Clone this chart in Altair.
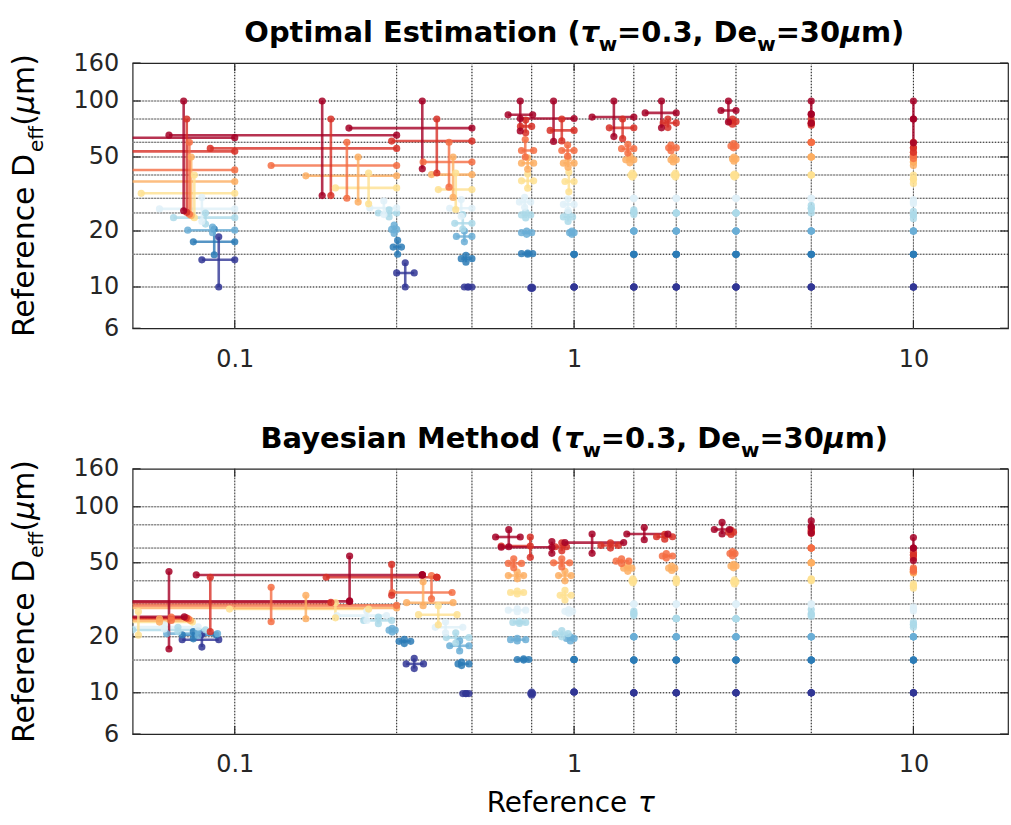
import altair as alt
import pandas as pd

# ---------------- reference grid / legend levels ----------------
LEVELS = [10, 15, 20, 25, 30, 40, 50, 60, 80, 100]          # reference De (um)
COLORS = ["#313695", "#2c7bb6", "#6aaed6", "#abd9e9", "#dff0f8",
          "#fee090", "#fdae61", "#f46d43", "#d73027", "#a50026"]
TAU_REF = [0.1, 0.3, 0.5, 0.75, 1, 1.5, 2, 3, 5, 10]
DE_GRID = [10, 15, 20, 25, 30, 40, 50, 60, 80, 100]
X_TICKS = [0.1, 1, 10]
Y_TICKS = [6, 10, 20, 50, 100, 160]
X_DOMAIN = [0.05, 19]
Y_DOMAIN = [6, 160]

# ---------------- Optimal Estimation (one row per reference tau, levels 10..100) ----
OE_XL = [
    [0.080, 0.0755, 0.0727, 0.066, 0.060, 0.053, 0.045, 0.045, 0.045, 0.045],
    [0.300, 0.293, 0.290, 0.265, 0.250, 0.198, 0.162, 0.128, 0.0847, 0.064],
    [0.475, 0.465, 0.450, 0.445, 0.430, 0.398, 0.380, 0.359, 0.290, 0.217],
    [0.745, 0.700, 0.700, 0.700, 0.690, 0.700, 0.700, 0.700, 0.695, 0.639],
    [1.0, 1.0, 0.97, 0.93, 0.93, 0.94, 0.93, 0.92, 0.85, 0.694],
    [1.5, 1.5, 1.5, 1.5, 1.5, 1.47, 1.42, 1.38, 1.27, 1.13],
    [2, 2, 2, 2, 2, 1.97, 1.93, 1.90, 1.83, 1.62],
    [3, 3, 3, 3, 3, 2.95, 2.93, 2.90, 2.88, 2.71],
    [5, 5, 5, 5, 5, 5, 5, 5, 5, 5],
    [10, 10, 10, 10, 10, 10, 10, 10, 10, 10],
]
OE_XR = [
    [0.1, 0.1, 0.1, 0.1, 0.1, 0.1, 0.1, 0.1, 0.1, 0.1],
    [0.338, 0.31, 0.30, 0.30, 0.30, 0.30, 0.30, 0.30, 0.30, 0.30],
    [0.5, 0.5, 0.5, 0.5, 0.5, 0.5, 0.5, 0.5, 0.5, 0.5],
    [0.755, 0.755, 0.75, 0.745, 0.745, 0.76, 0.76, 0.76, 0.75, 0.755],
    [1.0, 1.0, 1.0, 0.99, 1.0, 1.0, 1.0, 1.0, 1.0, 1.0],
    [1.5, 1.5, 1.5, 1.5, 1.5, 1.5, 1.5, 1.5, 1.5, 1.5],
    [2, 2, 2, 2, 2, 2, 2, 2, 2, 2],
    [3, 3, 3, 3, 3, 3, 3, 3, 3, 3],
    [5, 5, 5, 5, 5, 5, 5, 5, 5, 5],
    [10, 10, 10, 10, 10, 10, 10, 10, 10, 10],
]
OE_YH = [
    [14.0, 17.5, 20.2, 23.6, 26.3, 31.9, 36.9, 42.6, 53.6, 63.5],
    [11.9, 16.4, 20.4, 25.0, 26.6, 34.1, 39.6, 45.0, 55.6, 65.5],
    [10.0, 14.2, 18.7, 22.0, 26.5, 33.4, 40.2, 47.0, 60.9, 71.5],
    [9.9, 15.1, 19.6, 24.4, 28.6, 37.2, 46.3, 54.2, 73.0, 84.3],
    [10, 15, 19.6, 23.8, 27.8, 36.9, 46.3, 54.2, 69.5, 80.5],
    [10, 15, 20, 25.3, 30, 40, 48.3, 55.4, 71.7, 82],
    [10, 15, 20, 25, 30, 40, 48.3, 56, 76.2, 86.3],
    [10, 15, 20, 25, 30, 39.8, 48.8, 57.2, 77.5, 88.9],
    [10, 15, 20, 26.4, 30, 40, 50, 60, 76, 85],
    [10, 15, 20, 24.4, 28.6, 38, 47, 51, 56, 80],
]
OE_XV = [
    [0.0897, 0.087, 0.086, 0.082, 0.080, 0.076, 0.0744, 0.0735, 0.0722, 0.0707],
    [0.318, 0.302, 0.295, 0.285, 0.275, 0.248, 0.231, 0.214, 0.192, 0.181],
    [0.487, 0.48, 0.475, 0.47, 0.465, 0.448, 0.44, 0.428, 0.394, 0.357],
    [0.75, 0.73, 0.725, 0.72, 0.715, 0.73, 0.73, 0.718, 0.72, 0.694],
    [1, 1, 0.985, 0.96, 0.96, 0.965, 0.96, 0.957, 0.92, 0.87],
    [1.5, 1.5, 1.5, 1.5, 1.5, 1.485, 1.46, 1.44, 1.39, 1.31],
    [2, 2, 2, 2, 2, 1.99, 1.96, 1.93, 1.89, 1.81],
    [3, 3, 3, 3, 3, 2.97, 2.96, 2.95, 2.93, 2.85],
    [5, 5, 5, 5, 5, 5, 5, 5, 5, 5],
    [10, 10, 10, 10, 10, 10, 10, 10, 10, 10],
]
OE_YB = [
    [10, 14.9, 19.6, 21.8, 22.5, 23.6, 24.2, 24.6, 25.2, 25.7],
    [10, 15.0, 19.4, 23.8, 24.5, 28.0, 28.6, 30.0, 31.0, 31.0],
    [10, 13.6, 17.5, 20.5, 24.0, 26.1, 30.3, 34.4, 41.0, 43.2],
    [9.8, 15, 19.2, 23.5, 26.8, 34, 43, 50, 67.5, 69],
    [10, 15, 19.2, 22.5, 25.8, 32.5, 44, 50.5, 61, 60.6],
    [10, 15, 20, 24.5, 30, 39, 46.5, 52.5, 62.7, 64.4],
    [10, 15, 20, 25, 30, 39, 47, 54, 72, 71.7],
    [10, 15, 20, 25, 30, 39, 47.5, 56, 75, 77],
    [10, 15, 20, 25, 30, 40, 50, 60, 74, 76],
    [10, 15, 20, 23.3, 28, 36, 45, 49, 53, 59.6],
]
OE_YT = [
    [18.6, 20.5, 21.0, 25.0, 30.3, 40, 50, 60, 80, 100],
    [13.5, 17.8, 21.5, 26.0, 29.0, 41, 50, 60, 80, 100],
    [10, 14.8, 20.0, 24.5, 29.5, 41, 50, 60, 80, 100],
    [10, 15.2, 20, 25.3, 30.3, 40.5, 49.5, 62, 79, 100],
    [10, 15, 20, 25.2, 29.8, 41.5, 49, 58, 80, 100],
    [10, 15, 20, 26, 30, 41, 50.5, 58.5, 80, 100],
    [10, 15, 20, 25, 30, 41, 50, 58, 80, 100],
    [10, 15, 20, 25, 30, 40.5, 50, 59, 80, 100],
    [10, 15, 20, 27.5, 30, 40, 50, 60, 80, 100],
    [10, 15, 20, 25.5, 29.5, 40, 49, 53, 60, 100],
]

# ---------------- Bayesian Method ----------------
BM_XL = [
    [0.070, 0.070, 0.063, 0.050, 0.045, 0.045, 0.045, 0.045, 0.045, 0.045],
    [0.320, 0.305, 0.285, 0.240, 0.200, 0.0965, 0.045, 0.045, 0.045, 0.045],
    [0.470, 0.455, 0.430, 0.420, 0.390, 0.348, 0.321, 0.291, 0.186, 0.077],
    [0.745, 0.68, 0.65, 0.66, 0.64, 0.65, 0.64, 0.64, 0.61, 0.587],
    [1, 1, 0.95, 0.88, 0.94, 0.91, 0.90, 0.87, 0.88, 0.61],
    [1.5, 1.5, 1.5, 1.5, 1.5, 1.48, 1.40, 1.33, 1.20, 0.94],
    [2, 2, 2, 2, 2, 2, 1.90, 1.82, 1.75, 1.43],
    [3, 3, 3, 3, 3, 2.95, 2.90, 2.88, 2.85, 2.59],
    [5, 5, 5, 5, 5, 5, 5, 5, 5, 5],
    [10, 10, 10, 10, 10, 10, 10, 10, 10, 10],
]
BM_XR = [
    [0.0897, 0.088, 0.089, 0.082, 0.078, 0.075, 0.074, 0.073, 0.072, 0.071],
    [0.360, 0.330, 0.297, 0.290, 0.280, 0.248, 0.300, 0.300, 0.192, 0.218],
    [0.490, 0.490, 0.490, 0.490, 0.470, 0.452, 0.440, 0.437, 0.394, 0.357],
    [0.755, 0.735, 0.72, 0.72, 0.72, 0.71, 0.71, 0.70, 0.743, 0.694],
    [1, 1, 1.0, 0.96, 0.99, 0.98, 0.98, 0.97, 0.95, 0.86],
    [1.5, 1.5, 1.5, 1.5, 1.5, 1.5, 1.48, 1.45, 1.35, 1.40],
    [2, 2, 2, 2, 2, 2, 1.98, 1.95, 1.95, 1.89],
    [3, 3, 3, 3, 3, 3, 3.0, 2.98, 2.95, 2.87],
    [5, 5, 5, 5, 5, 5, 5, 5, 5, 5],
    [10, 10, 10, 10, 10, 10, 10, 10, 10, 10],
]
BM_YH = [
    [19.3, 20.5, 20.8, 21.8, 22.6, 24.0, 24.5, 25.0, 25.3, 25.6],
    [14.3, 18.9, 21.7, 24.5, 26.0, 28.2, 28.6, 29.5, 30.6, 31.0],
    [9.9, 14.3, 17.9, 19.8, 22.5, 26.3, 30.5, 34.6, 41.8, 43.0],
    [9.9, 15.1, 19.3, 23.9, 27.8, 34.6, 42.7, 49.6, 61.5, 68.8],
    [10.1, 15.1, 19.6, 20.8, 27.4, 33.4, 42.7, 50, 61, 60.6],
    [10, 15, 20, 26.7, 30, 40, 46.8, 51, 62, 64.2],
    [10, 15, 20, 25.1, 30, 40, 46.8, 54.4, 69, 71.4],
    [10, 15, 20, 25, 30, 39.5, 48, 56.1, 73, 75.5],
    [10, 15, 20, 26.5, 30, 40.6, 50, 60, 74, 78],
    [10, 15, 20, 23.3, 28.2, 37.5, 44.5, 46, 55, 60],
]
BM_XV = [
    [0.080, 0.0755, 0.078, 0.068, 0.062, 0.052, 0.060, 0.065, 0.0847, 0.064],
    [0.338, 0.316, 0.291, 0.265, 0.245, 0.198, 0.162, 0.128, 0.290, 0.218],
    [0.480, 0.466, 0.460, 0.448, 0.418, 0.398, 0.359, 0.380, 0.394, 0.357],
    [0.75, 0.71, 0.68, 0.69, 0.68, 0.68, 0.68, 0.664, 0.743, 0.642],
    [1, 1, 0.975, 0.92, 0.965, 0.94, 0.94, 0.92, 0.92, 0.86],
    [1.5, 1.5, 1.5, 1.5, 1.5, 1.49, 1.44, 1.38, 1.28, 1.13],
    [2, 2, 2, 2, 2, 2, 1.94, 1.87, 1.85, 1.61],
    [3, 3, 3, 3, 3, 2.97, 2.95, 2.93, 2.9, 2.73],
    [5, 5, 5, 5, 5, 5, 5, 5, 5, 5],
    [10, 10, 10, 10, 10, 10, 10, 10, 10, 10],
]
BM_YB = [
    [17.6, 19.5, 20.3, 21.3, 22.0, 20.4, 24.0, 24.5, 21.3, 17.2],
    [13.5, 18.4, 21.2, 23.5, 24.5, 25.3, 25.0, 24.1, 33.4, 31.2],
    [9.9, 14.0, 16.8, 18.5, 21.0, 23.2, 29.4, 32.0, 41.8, 43.0],
    [9.7, 15.0, 19.0, 23.6, 27.3, 34.0, 41.0, 47.0, 53.5, 61.0],
    [10.1, 15.1, 19.0, 20.0, 26.8, 31.5, 40.0, 47.5, 58, 56.2],
    [10, 15, 20, 26, 30, 39, 45, 49.5, 60, 56.2],
    [10, 15, 20, 25, 30, 39, 45.5, 53, 67, 66.5],
    [10, 15, 20, 25, 30, 38.5, 47, 54.5, 71, 71.4],
    [10, 15, 20, 25.8, 30, 40, 50, 60, 72, 72.2],
    [10, 15, 20, 22.5, 27.5, 36.5, 44, 45, 53, 51.4],
]
BM_YT = [
    [20.6, 21.3, 21.5, 22.5, 23.2, 27.3, 25.0, 25.5, 41.8, 44.9],
    [15.3, 19.4, 22.2, 25.5, 27.5, 30.5, 33.4, 36.9, 49.0, 54.4],
    [9.9, 14.6, 19.0, 21.0, 24.0, 29.4, 39.5, 42.7, 41.8, 43.0],
    [10.1, 15.2, 19.6, 24.2, 28.3, 35.2, 44.5, 52.5, 68.8, 75.3],
    [10.1, 15.1, 20, 21.6, 28, 35.5, 45, 52.5, 64, 65],
    [10, 15, 20, 27.5, 30, 41, 48.5, 52.5, 64, 71.4],
    [10, 15, 20, 25, 30, 41, 48, 56, 71, 77.4],
    [10, 15, 20, 25, 30, 40.5, 49, 57.5, 75, 82.4],
    [10, 15, 20, 28, 30, 41, 50, 60, 76, 84],
    [10, 15, 20, 24, 29, 38.5, 45, 47, 57, 68.4],
]

W, H = 878, 266
FONT = "DejaVu Sans"
TICK_LEN = 8

# approximate advance widths (em) for DejaVu Sans (regular / bold)
REG_W = {" ": .318, "R": .695, "e": .615, "f": .352, "r": .411, "n": .634,
         "c": .550, "D": .770, "(": .390, ")": .390, "m": .974, "μ": .636, "τ": .571}
BOLD_W = {" ": .348, "O": .850, "p": .716, "t": .478, "i": .343, "m": 1.042,
          "a": .675, "l": .343, "E": .683, "s": .595, "o": .687, "n": .712,
          "(": .457, ")": .457, "=": .838, ".": .380, ",": .380, "D": .830,
          "e": .678, "w": .924, "B": .762, "y": .652, "M": .995, "h": .712,
          "d": .716, "τ": .62, "μ": .72}
for d in "0123456789":
    BOLD_W[d] = .696


def tw(s, size, table):
    return sum(table.get(c, 0.65) for c in s) * size


def flat(rows):
    return [v for r in rows for v in r]


xscale = alt.Scale(type="log", domain=X_DOMAIN, nice=False)
yscale = alt.Scale(type="log", domain=Y_DOMAIN, nice=False)
xaxis = alt.Axis(values=X_TICKS, format="~g", grid=False, ticks=False, tickSize=0,
                 domain=False, labelFont=FONT, labelFontSize=24, labelColor="#262626",
                 labelPadding=19, labelFlush=False, labelOverlap=False, title=None)
yaxis = alt.Axis(values=Y_TICKS, format="~g", grid=False, ticks=False, tickSize=0,
                 domain=False, labelFont=FONT, labelFontSize=24, labelColor="#262626",
                 labelPadding=14, labelFlush=False, labelOverlap=False, title=None)
color = alt.Color("lev:O", scale=alt.Scale(domain=LEVELS, range=COLORS), legend=None)


def X(f):
    return alt.X(f, scale=xscale, axis=xaxis, title=None)


def Y(f):
    return alt.Y(f, scale=yscale, axis=yaxis, title=None)


def text_piece(s, x, y, size, weight="normal", style="normal", angle=0):
    return alt.Chart(pd.DataFrame({"t": [s]})).mark_text(
        align="left", baseline="alphabetic", font=FONT, fontSize=size,
        fontWeight=weight, fontStyle=style, angle=angle, color="black"
    ).encode(x=alt.value(x), y=alt.value(y), text="t:N")


def panel(name, xl, xr, yh, xv, yb, yt, xtitle=False):
    lev = LEVELS * len(xl)
    xl, xr, yh, xv, yb, yt = map(flat, (xl, xr, yh, xv, yb, yt))
    hdf = pd.DataFrame({"lev": lev, "x": xl, "x2": xr, "y": yh})
    vdf = pd.DataFrame({"lev": lev, "x": xv, "y": yb, "y2": yt})
    pdf = pd.concat([
        pd.DataFrame({"lev": lev, "x": xl, "y": yh}),
        pd.DataFrame({"lev": lev, "x": xr, "y": yh}),
        pd.DataFrame({"lev": lev, "x": xv, "y": yb}),
        pd.DataFrame({"lev": lev, "x": xv, "y": yt}),
    ])
    hdf = hdf.sort_values("lev", kind="stable")
    vdf = vdf.sort_values("lev", kind="stable")
    pdf = pdf.sort_values("lev", kind="stable")

    gx = pd.DataFrame({"g": TAU_REF})
    gy = pd.DataFrame({"g": DE_GRID})
    tx = pd.DataFrame({"g": X_TICKS})
    ty = pd.DataFrame({"g": Y_TICKS})
    tick = dict(color="#262626", strokeWidth=1.2)
    layers = [
        alt.Chart(gx).mark_rule(color="#bdbdbd", strokeWidth=1).encode(x=X("g:Q")),
        alt.Chart(gy).mark_rule(color="#bdbdbd", strokeWidth=1).encode(y=Y("g:Q")),
        alt.Chart(gx).mark_rule(color="#1a1a1a", strokeWidth=1, strokeDash=[1, 2]).encode(x=X("g:Q")),
        alt.Chart(gy).mark_rule(color="#1a1a1a", strokeWidth=1, strokeDash=[1, 2]).encode(y=Y("g:Q")),
        # inward axis ticks (MATLAB style)
        alt.Chart(tx).mark_rule(**tick).encode(x=X("g:Q"), y=alt.value(H), y2=alt.value(H - TICK_LEN)),
        alt.Chart(tx).mark_rule(**tick).encode(x=X("g:Q"), y=alt.value(0), y2=alt.value(TICK_LEN)),
        alt.Chart(ty).mark_rule(**tick).encode(y=Y("g:Q"), x=alt.value(0), x2=alt.value(TICK_LEN)),
        alt.Chart(ty).mark_rule(**tick).encode(y=Y("g:Q"), x=alt.value(W), x2=alt.value(W - TICK_LEN)),
        alt.Chart(hdf).mark_rule(strokeWidth=2.6, opacity=0.8, clip=True).encode(
            x=X("x:Q"), x2="x2:Q", y=Y("y:Q"), color=color),
        alt.Chart(vdf).mark_rule(strokeWidth=2.6, opacity=0.8, clip=True).encode(
            x=X("x:Q"), y=Y("y:Q"), y2="y2:Q", color=color),
        alt.Chart(pdf).mark_circle(size=52, opacity=0.85, clip=True).encode(
            x=X("x:Q"), y=Y("y:Q"), color=color),
    ]

    # title with subscripts
    big, small = 29, 20
    pieces = [(name + " (", big, "normal", 0), ("τ", big, "italic", 0),
              ("w", small, "normal", 9), ("=0.3, De", big, "normal", 0),
              ("w", small, "normal", 9), ("=30", big, "normal", 0),
              ("μ", big, "italic", 0), ("m)", big, "normal", 0)]
    total = sum(tw(p[0], p[1], BOLD_W) for p in pieces)
    x0 = W / 2 + 4 - total / 2
    for s, size, style, dy in pieces:
        layers.append(text_piece(s, x0, -21 + dy, size, "bold", style))
        x0 += tw(s, size, BOLD_W)

    # rotated y-axis title with subscript
    ysz, ysub = 30, 20
    ypieces = [("Reference D", ysz, "normal", 0), ("eff", ysub, "normal", 9),
               ("(", ysz, "normal", 0), ("μ", ysz, "italic", 0), ("m)", ysz, "normal", 0)]
    ytotal = sum(tw(p[0], p[1], REG_W) for p in ypieces)
    y0 = H / 2 + ytotal / 2
    for s, size, style, dx in ypieces:
        layers.append(text_piece(s, -99 + dx, y0, size, "normal", style, angle=270))
        y0 -= tw(s, size, REG_W)

    if xtitle:
        xsz = 28
        xp = [("Reference ", xsz, "normal"), ("τ", xsz, "italic")]
        xt = sum(tw(p[0], p[1], REG_W) for p in xp)
        xx = W / 2 - xt / 2
        for s, size, style in xp:
            layers.append(text_piece(s, xx, H + 78, size, "normal", style))
            xx += tw(s, size, REG_W)

    return alt.layer(*layers).properties(width=W, height=H)


top = panel("Optimal Estimation", OE_XL, OE_XR, OE_YH, OE_XV, OE_YB, OE_YT)
bottom = panel("Bayesian Method", BM_XL, BM_XR, BM_YH, BM_XV, BM_YB, BM_YT, xtitle=True)

chart = alt.vconcat(top, bottom, spacing=141, bounds="flush").properties(
    padding={"left": 9, "top": 17, "right": 1, "bottom": 5},
    background="white",
).configure_view(stroke="#262626", strokeWidth=1.2)

chart.save("out.html", embed_options={"renderer": "svg", "actions": False})
